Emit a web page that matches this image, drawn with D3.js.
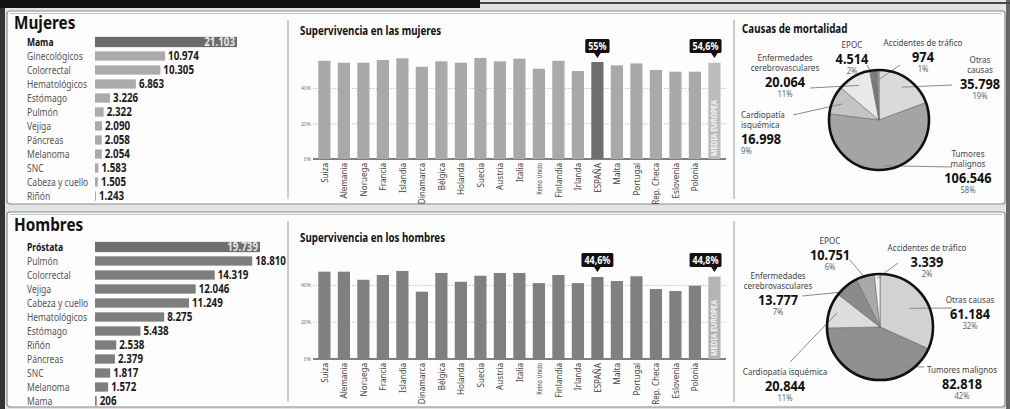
<!DOCTYPE html>
<html>
<head>
<meta charset="utf-8">
<script src="https://cdn.jsdelivr.net/npm/d3@7"></script>
<style>
body { margin: 0; background: #fff; }
svg { display: block; font-family: "Noto Sans", "DejaVu Sans", sans-serif; }
</style>
</head>
<body>
<svg id="chart" width="1010" height="409"></svg>
<script>
// ---- data ----
var tumorsWomen = ["Mama", "Ginecológicos", "Colorrectal", "Hematológicos", "Estómago", "Pulmón", "Vejiga", "Páncreas", "Melanoma", "SNC", "Cabeza y cuello", "Riñón"];
var casesWomen = [21103, 10974, 10305, 6863, 3226, 2322, 2090, 2058, 2054, 1583, 1505, 1243];
var tumorsMen = ["Próstata", "Pulmón", "Colorrectal", "Vejiga", "Cabeza y cuello", "Hematológicos", "Estómago", "Riñón", "Páncreas", "SNC", "Melanoma", "Mama"];
var casesMen = [19739, 18810, 14319, 12046, 11249, 8275, 5438, 2538, 2379, 1817, 1572, 206];

var countries = ["Suiza", "Alemania", "Noruega", "Francia", "Islandia", "Dinamarca", "Bélgica", "Holanda", "Suecia", "Austria", "Italia", "Reino Unido", "Finlandia", "Irlanda", "ESPAÑA", "Malta", "Portugal", "Rep. Checa", "Eslovenia", "Polonia", "MEDIA EUROPEA"];
var survivalWomen = [55.7, 54.6, 54.6, 56.1, 57.1, 52.3, 55.4, 54.6, 57.3, 55.4, 56.9, 51.2, 55.7, 49.9, 55, 53.1, 54.2, 50.5, 49.5, 49.5, 54.6];
var survivalMen = [47.5, 47.5, 43.1, 45.7, 47.9, 36.6, 46.8, 42.0, 45.3, 46.8, 46.8, 41.3, 45.7, 41.3, 44.6, 42.4, 45.0, 38.1, 37.0, 39.9, 44.8];
var survivalTicks = [0, 20, 40];
var highlighted = ["ESPAÑA", "MEDIA EUROPEA"];

var causes = ["Otras causas", "Tumores malignos", "Cardiopatía isquémica", "Enfermedades cerebrovasculares", "EPOC", "Accidentes de tráfico"];
var deathsWomen = [35798, 106546, 16998, 20064, 4514, 974];
var deathsWomenPct = [19, 58, 9, 11, 2, 1];
var deathsMen = [61184, 82818, 20844, 13777, 10751, 3339];
var deathsMenPct = [32, 42, 11, 7, 6, 2];

// ---- helpers ----
var es = d3.formatLocale({decimal: ",", thousands: ".", grouping: [3], currency: ["", " €"]});
var fmtInt = es.format(",d");
var fmtPct = function(v) { return es.format(",.1~f")(v) + "%"; };

// the paper uses a condensed face: squeeze glyphs horizontally
var SQUEEZE = 0.85;
function squeeze(node) {
  var w = node.getComputedTextLength() * SQUEEZE;
  d3.select(node).attr("textLength", w).attr("lengthAdjust", "spacingAndGlyphs");
  return w;
}

var svg = d3.select("#chart");

// ---- frame ----
svg.append("rect").attr("width", 1010).attr("height", 409).attr("fill", "#e4e4e4");
svg.append("rect").attr("x", 0).attr("y", 0).attr("width", 5).attr("height", 409).attr("fill", "#333");
svg.append("rect").attr("x", 1006).attr("y", 0).attr("width", 4).attr("height", 409).attr("fill", "#666");
svg.append("rect").attr("x", 0).attr("y", 0).attr("width", 480).attr("height", 8).attr("fill", "#111");
svg.append("line").attr("x1", 480).attr("x2", 1010).attr("y1", 3).attr("y2", 3).attr("stroke", "#444").attr("stroke-width", 2);

[[11, 193], [212, 195]].forEach(function(p) {
  svg.append("rect").attr("x", 7).attr("y", p[0]).attr("width", 998).attr("height", p[1])
    .attr("rx", 3).attr("fill", "#fdfdfd").attr("stroke", "#8a8a8a").attr("stroke-width", 1.2);
  svg.append("line").attr("x1", 10).attr("x2", 1002).attr("y1", p[0] + 2.5).attr("y2", p[0] + 2.5)
    .attr("stroke", "#c4c4c4").attr("stroke-width", 1);
  [288, 734].forEach(function(x) {
    svg.append("line").attr("x1", x).attr("x2", x).attr("y1", p[0] + 9).attr("y2", p[0] + p[1] - 5)
      .attr("stroke", "#9a9a9a").attr("stroke-width", 1);
  });
});

// ---- horizontal bars ----
function drawBars(title, titleY, cats, vals, x, yRange, firstColor, color) {
  var g = svg.append("g");
  g.append("text").attr("x", 14).attr("y", titleY).text(title)
    .style("font-size", "18px").style("font-weight", "bold").attr("fill", "#111");

  var y = d3.scaleBand().domain(cats).range(yRange).paddingInner(0.34).paddingOuter(0.17);
  var bh = y.bandwidth();

  g.selectAll(".bar").data(vals).enter().append("rect")
    .attr("x", x.range()[0])
    .attr("y", function(d, i) { return y(cats[i]) - (i === 0 ? 0.5 : 0); })
    .attr("width", function(d) { return Math.max(1, x(d) - x.range()[0]); })
    .attr("height", function(d, i) { return bh + (i === 0 ? 1 : 0); })
    .attr("fill", function(d, i) { return i === 0 ? firstColor : color; });

  g.selectAll(".cat").data(cats).enter().append("text")
    .attr("x", 27)
    .attr("y", function(d) { return y(d) + bh / 2 + 3.5; })
    .text(function(d) { return d; })
    .style("font-size", "10px")
    .style("font-weight", function(d, i) { return i === 0 ? "bold" : "normal"; })
    .attr("fill", function(d, i) { return i === 0 ? "#111" : "#555"; });

  g.selectAll(".val").data(vals).enter().append("text")
    .attr("x", function(d, i) { return i === 0 ? x(d) - 2 : x(d) + 3; })
    .attr("y", function(d, i) { return y(cats[i]) + bh / 2 + 4; })
    .attr("text-anchor", function(d, i) { return i === 0 ? "end" : "start"; })
    .text(function(d) { return fmtInt(d); })
    .style("font-size", "11.5px").style("font-weight", "bold")
    .attr("fill", function(d, i) { return i === 0 ? "#e6e6e6" : "#1a1a1a"; });
}

drawBars("Mujeres", 29, tumorsWomen, casesWomen,
  d3.scaleLinear().domain([1100, 21103]).range([95, 237]), [35, 203], "#6c6c6c", "#ababab");
drawBars("Hombres", 231, tumorsMen, casesMen,
  d3.scaleLinear().domain([0, 19739]).range([95, 260]), [240, 408], "#6e6e6e", "#7e7e7e");

// ---- survival columns ----
function drawSurvival(title, titleY, vals, y, boxY, color, spainColor, euColor) {
  var g = svg.append("g");
  var x = d3.scaleBand().domain(countries).range([313.4, 725.4]).paddingInner(0.374).paddingOuter(0.25);
  var base = y(0);

  g.append("text").attr("x", 300).attr("y", titleY).text(title)
    .style("font-size", "11.5px").style("font-weight", "bold").attr("fill", "#111");

  survivalTicks.forEach(function(t) {
    g.append("line").attr("x1", 313).attr("x2", 726).attr("y1", y(t)).attr("y2", y(t))
      .attr("stroke", t === 0 ? "#555" : "#c4c4c4")
      .attr("stroke-width", t === 0 ? 1.3 : 1)
      .attr("stroke-dasharray", t === 0 ? null : "1.5,1.5");
    g.append("text").attr("x", 311).attr("y", y(t) + 2).attr("text-anchor", "end")
      .text(t + "%").style("font-size", "6px").attr("fill", "#777");
  });

  g.selectAll(".col").data(vals).enter().append("rect")
    .attr("x", function(d, i) { return x(countries[i]); })
    .attr("y", function(d) { return y(d); })
    .attr("width", x.bandwidth())
    .attr("height", function(d) { return base - y(d); })
    .attr("fill", function(d, i) {
      return countries[i] === "ESPAÑA" ? spainColor : countries[i] === "MEDIA EUROPEA" ? euColor : color;
    });

  g.selectAll(".cname").data(countries.slice(0, -1)).enter().append("text")
    .attr("transform", function(d) {
      return "translate(" + (x(d) + x.bandwidth() / 2 + 3.5) + "," + (base + 4) + ") rotate(-90)";
    })
    .attr("text-anchor", "end")
    .text(function(d) { return d; })
    .style("font-size", "9.5px").attr("fill", "#444")
    .each(function() { if (this.getComputedTextLength() > 51.5) d3.select(this).style("font-size", "6.5px"); });

  var eu = countries[countries.length - 1];
  g.append("text")
    .attr("transform", "translate(" + (x(eu) + x.bandwidth() / 2 + 3) + "," + (base - 3) + ") rotate(-90)")
    .text(eu).style("font-size", "8px").style("font-weight", "bold").attr("fill", "#f4f4f4");

  highlighted.forEach(function(c) {
    var i = countries.indexOf(c);
    var cx = x(c) + x.bandwidth() / 2;
    var t = g.append("text").attr("y", boxY + 10.5).attr("text-anchor", "middle")
      .text(fmtPct(vals[i])).style("font-size", "10.5px").style("font-weight", "bold").attr("fill", "#fff");
    var w = squeeze(t.node()) + 6;
    t.classed("done", true);
    var bx = c === "ESPAÑA" ? cx - w / 2 : x(c) + x.bandwidth() + 1 - w;
    g.insert("rect", function() { return t.node(); })
      .attr("x", bx).attr("y", boxY).attr("width", w).attr("height", 14).attr("rx", 1.5).attr("fill", "#111");
    g.insert("path", function() { return t.node(); })
      .attr("d", "M" + (cx - 4) + "," + (boxY + 13) + "L" + (cx + 4) + "," + (boxY + 13) + "L" + cx + "," + (boxY + 19) + "Z")
      .attr("fill", "#111");
    t.attr("x", bx + w / 2);
  });
}

drawSurvival("Supervivencia en las mujeres", 35, survivalWomen,
  d3.scaleLinear().domain([0, 60]).range([159, 53.2]), 39, "#a9a9a9", "#6e6e6e", "#bdbdbd");
drawSurvival("Supervivencia en los hombres", 242, survivalMen,
  d3.scaleLinear().domain([0, 60]).range([359, 248.7]), 253, "#808080", "#7a7a7a", "#b4b4b4");

// ---- pies ----
function drawPie(vals, pcts, cx, cy, r, colors, layout) {
  var g = svg.append("g");
  var arcs = d3.pie().sort(null).value(function(d) { return d; })(vals);
  var arc = d3.arc().innerRadius(0).outerRadius(r);

  g.append("g").attr("transform", "translate(" + cx + "," + cy + ")")
    .selectAll("path").data(arcs).enter().append("path")
    .attr("d", arc)
    .attr("fill", function(d, i) { return colors[i]; })
    .attr("stroke", "#6a6a6a").attr("stroke-width", 0.6);

  arcs.forEach(function(a, i) {
    var L = layout[i];
    var mid = (a.startAngle + a.endAngle) / 2;
    var rr = r * L.rf;
    g.append("line")
      .attr("x1", cx + rr * Math.sin(mid)).attr("y1", cy - rr * Math.cos(mid))
      .attr("x2", L.end[0]).attr("y2", L.end[1])
      .attr("stroke", "#8a8a8a").attr("stroke-width", 1);
  });

  g.append("circle").attr("cx", cx).attr("cy", cy).attr("r", r)
    .attr("fill", "none").attr("stroke", "#111").attr("stroke-width", 2.6);

  causes.forEach(function(name, i) {
    var L = layout[i];
    var lines = L.wrap ? [name.slice(0, name.indexOf(" ")), name.slice(name.indexOf(" ") + 1)] : [name];
    lines.forEach(function(s, k) {
      g.append("text").attr("x", L.x).attr("y", L.y + k * 10).attr("text-anchor", L.anchor).text(s)
        .style("font-size", "9.5px").attr("fill", "#444");
    });
    var ny = L.y + (lines.length - 1) * 10 + 16;
    g.append("text").attr("x", L.x).attr("y", ny).attr("text-anchor", L.anchor).text(fmtInt(vals[i]))
      .style("font-size", "15px").style("font-weight", "bold").attr("fill", "#111");
    g.append("text").attr("x", L.x).attr("y", ny + 10).attr("text-anchor", L.anchor).text(pcts[i] + "%")
      .style("font-size", "9px").attr("fill", "#666");
  });
}

svg.append("text").attr("x", 742).attr("y", 33).text("Causas de mortalidad")
  .style("font-size", "11.5px").style("font-weight", "bold").attr("fill", "#111");

drawPie(deathsWomen, deathsWomenPct, 879, 120, 50,
  ["#dadada", "#a4a4a4", "#c4c4c4", "#e9e9e9", "#7a7a7a", "#b5b5b5"],
  [
    {x: 980, y: 63, anchor: "middle", wrap: true, end: [952, 85], rf: 0.8},
    {x: 968, y: 157, anchor: "middle", wrap: true, end: [952, 167], rf: 0.92},
    {x: 741, y: 118, anchor: "start", wrap: true, end: [793, 115], rf: 0.8},
    {x: 785, y: 61, anchor: "middle", wrap: true, end: [810, 88], rf: 0.8},
    {x: 852, y: 48, anchor: "middle", wrap: false, end: [867, 65], rf: 0.8},
    {x: 923, y: 46, anchor: "middle", wrap: false, end: [900, 65], rf: 0.8}
  ]);

drawPie(deathsMen, deathsMenPct, 880, 327, 53,
  ["#d2d2d2", "#8f8f8f", "#dddddd", "#8b8b8b", "#a9a9a9", "#f4f4f4"],
  [
    {x: 970, y: 303, anchor: "middle", wrap: false, end: [952, 308], rf: 0.65},
    {x: 962, y: 373, anchor: "middle", wrap: false, end: [924, 367], rf: 0.75},
    {x: 785, y: 375, anchor: "middle", wrap: false, end: [790, 362], rf: 0.85},
    {x: 778, y: 279, anchor: "middle", wrap: true, end: [802, 296], rf: 0.87},
    {x: 830, y: 244, anchor: "middle", wrap: false, end: [850, 260], rf: 0.94},
    {x: 927, y: 251, anchor: "middle", wrap: false, end: [898, 263], rf: 0.92}
  ]);

// condense every remaining label
svg.selectAll("text").filter(function() { return !d3.select(this).classed("done"); })
  .each(function() { squeeze(this); });
</script>
</body>
</html>
